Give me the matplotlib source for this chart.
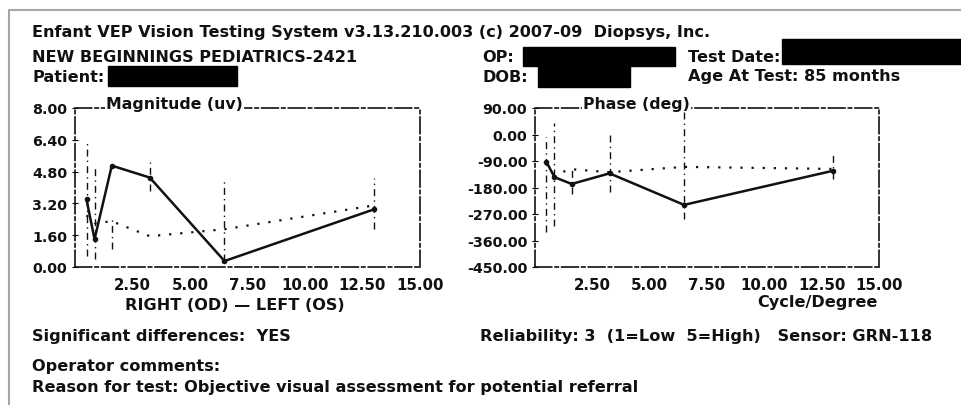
import matplotlib.pyplot as plt
from matplotlib.patches import Rectangle

# spatial frequency of each stimulus (cycle/degree)
freq = [0.5, 0.85, 1.6, 3.25, 6.5, 13.0]

# magnitude (uv): right eye solid, left eye dotted, vertical bars
mag_od = [3.4, 1.4, 5.1, 4.5, 0.3, 2.9]
mag_os = [2.6, 2.2, 2.3, 1.55, 1.9, 3.1]
mag_lo = [0.55, 0.4, 0.9, 3.8, 0.3, 1.9]
mag_hi = [6.4, 5.1, 2.55, 5.3, 4.4, 4.5]

# phase (deg)
ph_od = [-93, -145, -168, -132, -239, -123]
ph_os = [-100, -135, -118, -128, -110, -117]
ph_lo = [-330, -310, -202, -195, -287, -151]
ph_hi = [-10, 40, -110, 2, 76, -66]

x_ticks = [2.5, 5, 7.5, 10, 12.5, 15]
mag_ticks = [0, 1.6, 3.2, 4.8, 6.4, 8.0]
ph_ticks = [90, 0, -90, -180, -270, -360, -450]

W, H = 961, 406
INK = '#111111'

fig = plt.figure(figsize=(W / 100, H / 100), dpi=100)
fig.patch.set_facecolor('white')


def txt(x, y, s, size=11.6, **kw):
    fig.text(x / W, 1 - y / H, s, va='center', fontweight='bold',
             fontsize=size, color=INK, **kw)


def blackbox(x0, y0, x1, y1):
    fig.patches.append(Rectangle((x0 / W, 1 - y1 / H), (x1 - x0) / W, (y1 - y0) / H,
                                 transform=fig.transFigure, color='black'))


def panel(rect, od, os_, lo, hi, yticks, fmt, title, title_x):
    x0, y0, x1, y1 = rect
    ax = fig.add_axes([x0 / W, 1 - y1 / H, (x1 - x0) / W, (y1 - y0) / H])
    ax.vlines(freq, lo, hi, colors=INK, linestyles=(0, (5, 3, 1, 3)), lw=1.0)
    ax.plot(freq, od, color=INK, lw=1.8, marker='o', ms=3)
    ax.plot(freq, os_, color=INK, lw=1.6, ls=(0, (1, 4)))
    ax.set_xlim(0, 15)
    ax.set_ylim(min(yticks), max(yticks))
    ax.set_xticks(x_ticks)
    ax.set_xticklabels([f'{t:.2f}' for t in x_ticks])
    ax.set_yticks(yticks)
    ax.set_yticklabels([fmt.format(t) for t in yticks])
    ax.tick_params(axis='x', length=0, pad=7, labelsize=10.8)
    ax.tick_params(axis='y', length=5, direction='inout', pad=3, labelsize=10.3)
    for lab in ax.get_xticklabels() + ax.get_yticklabels():
        lab.set_fontweight('bold')
        lab.set_color(INK)
    for sp in ax.spines.values():
        sp.set_linestyle((0, (10, 2, 2, 2)))
        sp.set_linewidth(1.2)
        sp.set_color(INK)
    ax.text(title_x, 1.03, title, transform=ax.transAxes, fontsize=11.3,
            fontweight='bold', color=INK, va='center',
            bbox=dict(facecolor='white', edgecolor='none', pad=1))
    return ax


panel((75, 109, 420, 268), mag_od, mag_os, mag_lo, mag_hi, mag_ticks,
      '{:.2f}', 'Magnitude (uv)', 0.09)
panel((535, 109, 879, 268), ph_od, ph_os, ph_lo, ph_hi, ph_ticks,
      '{:.2f}', 'Phase (deg)', 0.14)

# page border
fig.add_artist(plt.Line2D([9 / W, 9 / W, 1], [0, 1 - 11 / H, 1 - 11 / H],
                          transform=fig.transFigure, color='#a0a8ad', lw=1.5))

# header
txt(32, 33, 'Enfant VEP Vision Testing System v3.13.210.003 (c) 2007-09  Diopsys, Inc.')
txt(32, 58, 'NEW BEGINNINGS PEDIATRICS-2421')
txt(32, 78, 'Patient:')
txt(482, 58, 'OP:')
txt(482, 78, 'DOB:')
txt(688, 58, 'Test Date:')
txt(688, 76, 'Age At Test: 85 months')
blackbox(108, 67, 237, 87)
blackbox(523, 48, 675, 67)
blackbox(538, 67, 630, 88)
blackbox(782, 40, 961, 65)

# footer
txt(235, 305, 'RIGHT (OD) \u2014 LEFT (OS)', ha='center')
txt(817, 303, 'Cycle/Degree', ha='center')
txt(32, 337, 'Significant differences:  YES')
txt(480, 337, 'Reliability: 3  (1=Low  5=High)   Sensor: GRN-118')
txt(32, 367, 'Operator comments:')
txt(32, 388, 'Reason for test: Objective visual assessment for potential referral')

fig.savefig('out.png', dpi=100)
